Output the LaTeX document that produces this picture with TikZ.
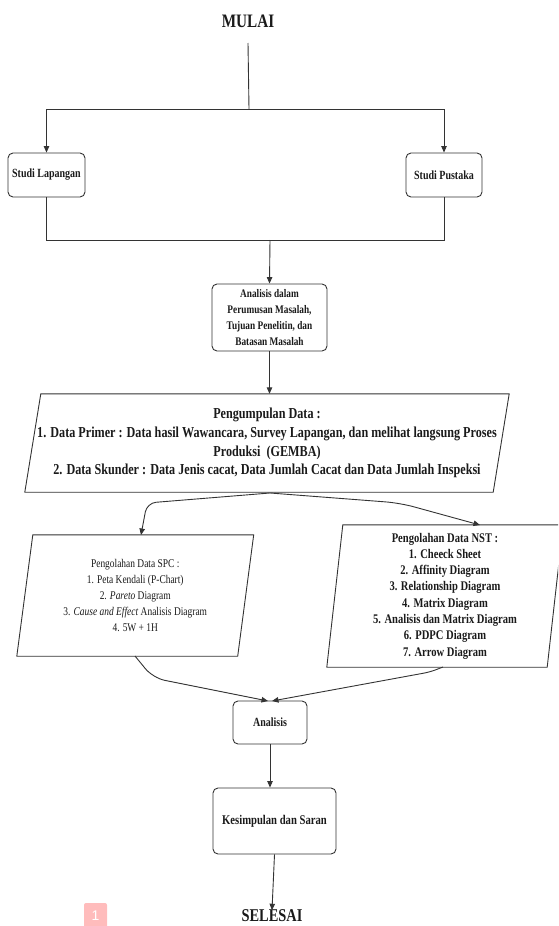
\documentclass[tikz,border=0pt]{standalone}
\usepackage{fontspec}
\setmainfont{Liberation Serif}[FakeStretch=0.8]
\newfontfamily\badgefont{Liberation Sans}
\usetikzlibrary{arrows.meta}
\definecolor{ln}{HTML}{333333}
\definecolor{tx}{HTML}{1A1A1A}
\definecolor{badge}{HTML}{FFBCBC}
\tikzset{
  x=1pt, y=-1pt,
  every node/.style={text=tx, inner sep=0pt},
  conn/.style={draw=ln, line width=0.9pt},
  arr/.style={conn, -{Triangle[length=6.5pt,width=5.5pt]}},
  rbox/.style={draw=ln, line width=0.9pt, rounded corners=5pt, align=center, font=\bfseries\fontsize{12.5}{16}\selectfont},
  term/.style={font=\bfseries\fontsize{19}{22}\selectfont},
  para/.style={align=center},
}
\begin{document}
\begin{tikzpicture}
\useasboundingbox (0,0) rectangle (558,926);
\clip (0,0) rectangle (558,926);
% terminals
\node[term] (mulai) at (248,21) {MULAI};
\node[term, font=\bfseries\fontsize{18}{20}\selectfont] (selesai) at (272,915.5) {SELESAI};
% boxes
\node[rbox, minimum width=77pt, minimum height=44pt] (sl) at (46.5,175) {Studi Lapangan};
\node[rbox, minimum width=76pt, minimum height=44pt] (sp) at (444,175) {Studi Pustaka};
\node[rbox, minimum width=115pt, minimum height=67pt, font=\bfseries\fontsize{11.6}{16}\selectfont] (adm) at (269.5,317.5) {Analisis dalam\\Perumusan Masalah,\\Tujuan Penelitin, dan\\Batasan Masalah};
\node[rbox, minimum width=74pt, minimum height=43pt] (an) at (270,722.5) {Analisis};
\node[rbox, minimum width=123pt, minimum height=66pt, font=\bfseries\fontsize{13.3}{16}\selectfont] (ks) at (274.5,821) {Kesimpulan dan Saran};
% parallelograms
\node[para, minimum width=468pt, minimum height=98pt, font=\bfseries\fontsize{15.2}{18.7}\selectfont] (pd) at (267,443)
 {Pengumpulan Data :\\1. Data Primer : Data hasil Wawancara, Survey Lapangan, dan melihat langsung Proses\\Produksi\ \ (GEMBA)\\2. Data Skunder : Data Jenis cacat, Data Jumlah Cacat dan Data Jumlah Inspeksi};
\draw[conn] ([xshift=8pt]pd.north west) -- ([xshift=8pt]pd.north east) -- ([xshift=-8pt]pd.south east) -- ([xshift=-8pt]pd.south west) -- cycle;
\node[para, minimum width=220.5pt, minimum height=121pt, font=\fontsize{11.8}{16}\selectfont] (spc) at (135.25,595.5)
 {Pengolahan Data SPC :\\1. Peta Kendali (P-Chart)\\2. \textit{Pareto} Diagram\\3. \textit{Cause and Effect} Analisis Diagram\\4. 5W + 1H};
\draw[conn] ([xshift=8pt]spc.north west) -- ([xshift=8pt]spc.north east) -- ([xshift=-8pt]spc.south east) -- ([xshift=-8pt]spc.south west) -- cycle;
\node[para, minimum width=220pt, minimum height=142pt, font=\bfseries\fontsize{13.2}{16.3}\selectfont] (nst) at (445,596)
 {Pengolahan Data NST :\\1. Cheeck Sheet\\2. Affinity Diagram\\3. Relationship Diagram\\4. Matrix Diagram\\5. Analisis dan Matrix Diagram\\6. PDPC Diagram\\7. Arrow Diagram};
\draw[conn] ([xshift=8pt]nst.north west) -- ([xshift=8pt]nst.north east) -- ([xshift=-8pt]nst.south east) -- ([xshift=-8pt]nst.south west) -- cycle;
% connectors
\coordinate (split) at (249,109);
\coordinate (join) at (270,240);
\draw[conn] (mulai.south |- 0,43) -- (split);
\draw[arr] (split) -| (sl.north);
\draw[arr] (split) -| (sp.north);
\draw[conn] (sl.south) |- (join);
\draw[conn] (sp.south) |- (join);
\draw[arr] (join) -- (adm.north);
\draw[arr] (adm.south) -- (pd.north -| adm.south);
\coordinate (pdb) at (270,493);
\draw[arr, rounded corners=9pt] (pdb) -- (147,503) -- (141,535);
\draw[arr, rounded corners=14pt] (pdb) -- (400,503) -- (480,525);
\draw[arr, rounded corners=12pt] (135,656) -- (153,678) -- (268,701);
\draw[arr, rounded corners=6pt] (443,667) -- (430,672) -- (272,701);
\draw[arr] (an.south) -- (ks.north -| an.south);
\draw[arr] (ks.south) -- ([yshift=-1pt]selesai.north);
% badge
\node[fill=badge, rounded corners=2pt, minimum width=23pt, minimum height=26pt, text=white, font=\badgefont\fontsize{14}{14}\selectfont] (bd) at (95.5,916) {1};
\end{tikzpicture}
\end{document}
